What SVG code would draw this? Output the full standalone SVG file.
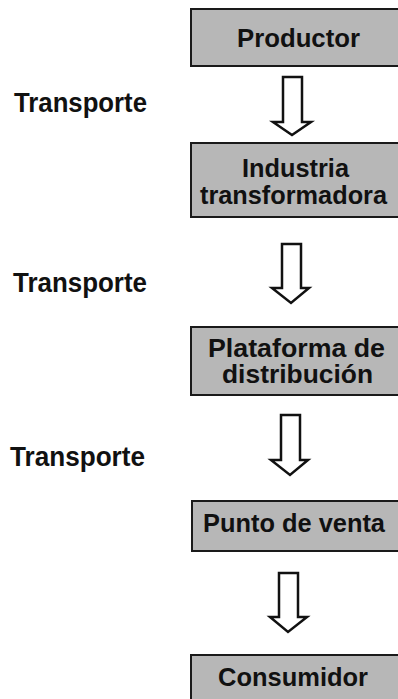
<svg xmlns="http://www.w3.org/2000/svg" width="398" height="699" viewBox="0 0 398 699">
<style>
.box{fill:#b7b7b7;stroke:#1a1a1a;stroke-width:2}
.bt{font-family:"Liberation Sans",Arial,sans-serif;font-weight:bold;font-size:26px;fill:#111;text-anchor:middle}
.lt{font-family:"Liberation Sans",Arial,sans-serif;font-weight:bold;font-size:27px;fill:#111}
.arr{fill:#fff;stroke:#111;stroke-width:2.5;stroke-linejoin:miter}
</style>
<rect width="398" height="699" fill="#fff"/>
<g id="connectors">
<path class="arr" d="M283,77 H302 V122 H311 L292,135 L273,122 H283 Z"/>
<path class="arr" d="M282,244 H301 V288 H309 L291,303 L272,288 H282 Z"/>
<path class="arr" d="M281,415 H300 V460 H308 L290,475 L271,460 H281 Z"/>
<path class="arr" d="M279,573 H298 V617 H307 L288,632 L270,617 H279 Z"/>
</g>
<g id="label1"><text class="lt" x="14" y="112" textLength="133" lengthAdjust="spacingAndGlyphs">Transporte</text></g>
<g id="label2"><text class="lt" x="13" y="292" textLength="134" lengthAdjust="spacingAndGlyphs">Transporte</text></g>
<g id="label3"><text class="lt" x="10" y="466" textLength="135" lengthAdjust="spacingAndGlyphs">Transporte</text></g>
<g id="productor">
<rect class="box" x="191" y="9" width="212" height="57"/>
<text class="bt" x="298.5" y="47" textLength="123" lengthAdjust="spacingAndGlyphs">Productor</text>
</g>
<g id="industria">
<rect class="box" x="191" y="143" width="212" height="74"/>
<text class="bt" x="295.5" y="177" textLength="107" lengthAdjust="spacingAndGlyphs">Industria</text>
<text class="bt" x="293.5" y="204" textLength="187" lengthAdjust="spacingAndGlyphs">transformadora</text>
</g>
<g id="plataforma">
<rect class="box" x="191" y="327" width="212" height="68"/>
<text class="bt" x="296.5" y="357" textLength="177" lengthAdjust="spacingAndGlyphs">Plataforma de</text>
<text class="bt" x="297.5" y="383" textLength="151" lengthAdjust="spacingAndGlyphs">distribución</text>
</g>
<g id="punto">
<rect class="box" x="192" y="501" width="212" height="50"/>
<text class="bt" x="294" y="532" textLength="182" lengthAdjust="spacingAndGlyphs">Punto de venta</text>
</g>
<g id="consumidor">
<rect class="box" x="191" y="655" width="212" height="60"/>
<text class="bt" x="293" y="686" textLength="150" lengthAdjust="spacingAndGlyphs">Consumidor</text>
</g>
</svg>
